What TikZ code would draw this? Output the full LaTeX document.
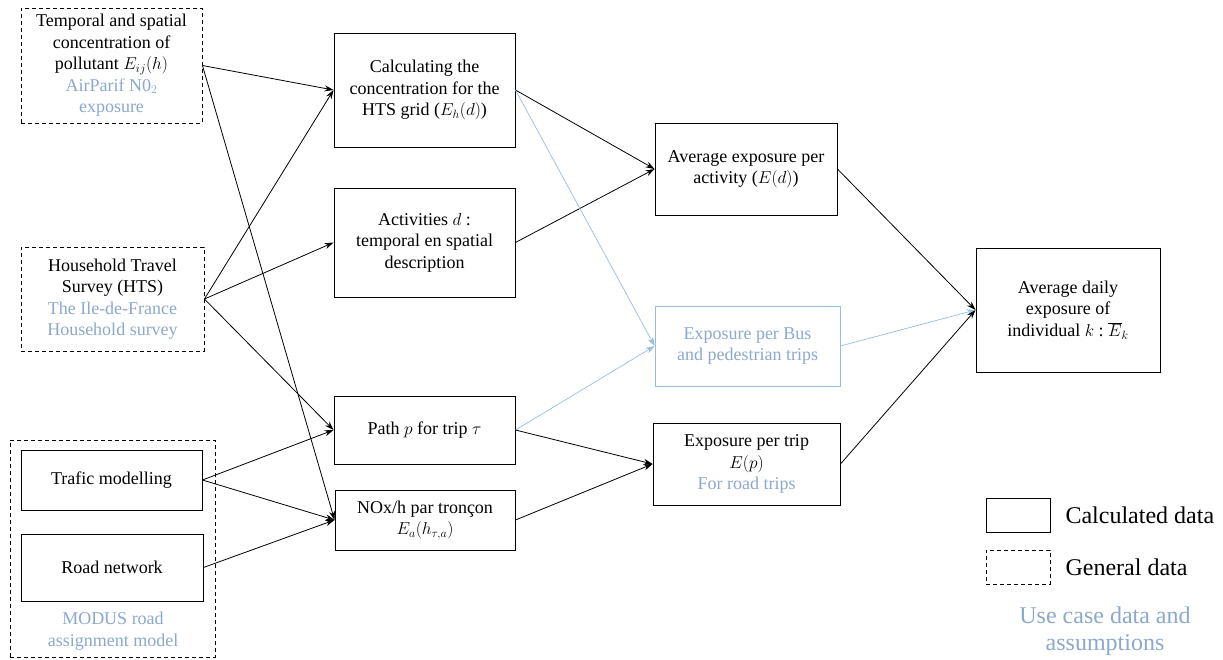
\documentclass[tikz,border=0pt]{standalone}
\usepackage{fontspec}
\setmainfont{Liberation Serif}
\usetikzlibrary{arrows.meta}
\definecolor{usecase}{RGB}{140,168,205}
\definecolor{usecaseline}{RGB}{150,190,225}
\begin{document}
\begin{tikzpicture}[x=1pt,y=-1pt,font=\fontsize{18}{21.5}\selectfont,
  calcbox/.style={draw,line width=0.9pt,align=center,inner sep=1pt},
  genbox/.style={calcbox,dash pattern=on 4pt off 3pt},
  link/.style={line width=0.8pt,-{Stealth[length=9pt,width=6pt]}},
  bluelink/.style={link,draw=usecaseline,line width=0.7pt}]
\useasboundingbox (0,0) rectangle (1223,659);
\node[genbox,minimum width=205,minimum height=217] (modus) at (112.5,548.5) {};
\node[genbox,minimum width=181,minimum height=115] (poll) at (111.5,65.5) {Temporal and spatial\\concentration of\\pollutant $E_{ij}(h)$\\\textcolor{usecase}{AirParif N0$_2$}\\\textcolor{usecase}{exposure}};
\node[genbox,minimum width=183,minimum height=104] (hts) at (112.5,299) {Household Travel\\Survey (HTS)\\\textcolor{usecase}{The Ile-de-France}\\\textcolor{usecase}{Household survey}};
\node[calcbox,minimum width=181,minimum height=60] (trafic) at (111.5,480) {Trafic modelling};
\node[calcbox,minimum width=182,minimum height=67] (road) at (112,567.5) {Road network};
\node[text=usecase,align=center] (modustxt) at (113,631) {MODUS road\\assignment model};
\node[calcbox,minimum width=181,minimum height=114] (grid) at (424.5,90) {Calculating the\\concentration for the\\HTS grid ($E_h(d)$)};
\node[calcbox,minimum width=181,minimum height=109] (activ) at (424.5,242.5) {Activities $d$ :\\temporal en spatial\\description};
\node[calcbox,minimum width=181,minimum height=68] (path) at (424.5,430) {Path $p$ for trip $\tau$};
\node[calcbox,minimum width=180,minimum height=60] (nox) at (425,520) {NOx/h par tronçon\\$E_a\big(h_{\tau,a}\big)$};
\node[calcbox,minimum width=182,minimum height=92] (avgact) at (746,169) {Average exposure per\\activity ($E(d)$)};
\node[calcbox,draw=usecaseline,text=usecase,line width=0.7pt,minimum width=185,minimum height=80] (bus) at (747.5,346) {Exposure per Bus\\and pedestrian trips};
\node[calcbox,minimum width=187,minimum height=82] (trip) at (746.5,464) {Exposure per trip\\$E(p)$\\\textcolor{usecase}{For road trips}};
\node[calcbox,minimum width=184,minimum height=124] (daily) at (1068,310) {Average daily\\exposure of\\individual $k$ :\ $\overline{E}_k$};
\node[calcbox,minimum width=64,minimum height=34] (legcalc) at (1018,515) {};
\node[genbox,minimum width=64,minimum height=34] (leggen) at (1018,567) {};
\node[anchor=west,font=\fontsize{24}{28}\selectfont] (legcalctxt) at (1062,515) {Calculated data};
\node[anchor=west,font=\fontsize{24}{28}\selectfont] (leggentxt) at (1062,567) {General data};
\node[text=usecase,align=center,font=\fontsize{24}{27}\selectfont] (legcase) at (1105,631) {Use case data and\\assumptions};
\draw[link] (poll.east) -- (grid.west);
\draw[link] (poll.east) -- (nox.west);
\draw[link] (hts.east) -- (grid.west);
\draw[link] (hts.east) -- (activ.west);
\draw[link] (hts.east) -- (path.west);
\draw[link] (trafic.east) -- (path.west);
\draw[link] (trafic.east) -- (nox.west);
\draw[link] (road.east) -- (nox.west);
\draw[link] (grid.east) -- (avgact.west);
\draw[link] (activ.east) -- (avgact.west);
\draw[bluelink] (grid.east) -- (bus.west);
\draw[bluelink] (path.east) -- (bus.west);
\draw[link] (path.east) -- (trip.west);
\draw[link] (nox.east) -- (trip.west);
\draw[link] (avgact.east) -- (daily.west);
\draw[bluelink] (bus.east) -- (daily.west);
\draw[link] (trip.east) -- (daily.west);
\end{tikzpicture}
\end{document}
